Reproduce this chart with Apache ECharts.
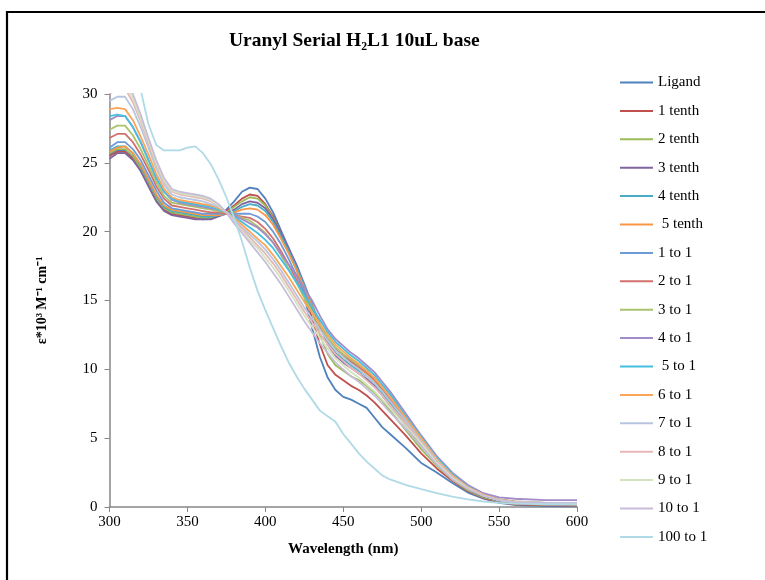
<!DOCTYPE html>
<html>
<head>
<meta charset="utf-8">
<script src="https://cdn.jsdelivr.net/npm/echarts@6/dist/echarts.min.js"></script>
<style>html,body{margin:0;padding:0;background:#fff;}#c{width:765px;height:580px;}</style>
</head>
<body>
<div id="c"></div>
<script>
const wavelengths = [300,305,310,315,320,325,330,335,340,345,350,355,360,365,370,375,380,385,390,395,400,405,410,415,420,425,430,435,440,445,450,455,460,465,470,475,480,490,500,510,520,530,540,550,560,580,600];

const ligand   = [25.6,25.9,25.9,25.4,24.6,23.5,22.4,21.7,21.3,21.2,21.1,21.0,20.9,21.0,21.2,21.6,22.2,22.9,23.2,23.1,22.4,21.4,20.1,18.8,17.3,15.3,13.0,10.9,9.4,8.5,8.0,7.8,7.5,7.2,6.5,5.8,5.3,4.3,3.2,2.5,1.75,1.05,0.6,0.3,0.15,0.07,0.05];
const tenth1   = [25.5,25.8,25.8,25.3,24.5,23.4,22.3,21.6,21.3,21.2,21.1,21.0,21.0,21.0,21.2,21.5,21.9,22.4,22.7,22.6,22.0,21.1,19.9,18.7,17.3,15.6,13.7,11.8,10.3,9.6,9.2,8.8,8.5,8.1,7.6,7.0,6.4,5.2,3.9,2.8,1.9,1.15,0.65,0.35,0.2,0.12,0.1];
const tenth2   = [25.7,26.0,26.0,25.5,24.6,23.5,22.4,21.7,21.4,21.3,21.2,21.1,21.0,21.0,21.2,21.4,21.8,22.2,22.5,22.4,21.9,21.0,19.9,18.7,17.4,15.9,14.2,12.5,11.1,10.3,9.9,9.5,9.2,8.8,8.3,7.7,7.0,5.6,4.2,3.0,2.0,1.2,0.7,0.4,0.25,0.15,0.12];
const tenth3   = [25.3,25.7,25.7,25.2,24.4,23.3,22.2,21.5,21.2,21.1,21.0,20.9,20.9,20.9,21.1,21.3,21.6,22.0,22.2,22.1,21.7,20.9,19.9,18.8,17.6,16.2,14.7,13.2,11.8,11.0,10.5,10.1,9.7,9.3,8.8,8.1,7.4,5.9,4.5,3.2,2.1,1.3,0.75,0.45,0.3,0.2,0.15];
const tenth4   = [25.9,26.2,26.2,25.7,24.8,23.7,22.6,21.8,21.5,21.4,21.3,21.2,21.1,21.1,21.2,21.3,21.5,21.8,22.0,21.9,21.5,20.7,19.7,18.6,17.4,16.1,14.7,13.3,12.0,11.2,10.7,10.3,9.9,9.5,9.0,8.3,7.6,6.1,4.6,3.3,2.2,1.35,0.8,0.45,0.3,0.2,0.15];
const tenth5   = [25.8,26.1,26.2,25.7,24.9,23.8,22.7,21.9,21.6,21.5,21.4,21.3,21.2,21.2,21.2,21.3,21.4,21.6,21.7,21.6,21.2,20.5,19.5,18.4,17.2,15.9,14.6,13.3,12.1,11.4,10.9,10.5,10.1,9.7,9.2,8.5,7.8,6.3,4.8,3.4,2.3,1.4,0.8,0.5,0.3,0.2,0.15];
const ratio1   = [26.1,26.5,26.5,26.0,25.2,24.1,23.0,22.1,21.7,21.6,21.5,21.4,21.3,21.3,21.3,21.3,21.3,21.3,21.3,21.1,20.7,20.0,19.1,18.0,16.8,15.6,14.4,13.2,12.2,11.5,11.0,10.6,10.2,9.8,9.3,8.6,7.9,6.4,4.9,3.5,2.3,1.4,0.85,0.5,0.3,0.2,0.18];
const ratio2   = [26.8,27.1,27.1,26.5,25.6,24.5,23.3,22.4,21.9,21.8,21.7,21.6,21.5,21.4,21.4,21.3,21.2,21.1,21.0,20.7,20.2,19.5,18.6,17.6,16.5,15.3,14.2,13.1,12.2,11.5,11.0,10.6,10.2,9.8,9.3,8.6,7.9,6.4,4.9,3.5,2.3,1.4,0.85,0.5,0.3,0.2,0.18];
const ratio3   = [27.4,27.7,27.7,27.0,26.0,24.8,23.6,22.6,22.1,22.0,21.9,21.8,21.7,21.6,21.5,21.4,21.2,21.0,20.8,20.4,19.9,19.2,18.3,17.3,16.3,15.2,14.2,13.2,12.3,11.6,11.1,10.7,10.3,9.9,9.4,8.7,8.0,6.5,5.0,3.6,2.4,1.45,0.9,0.55,0.35,0.25,0.2];
const ratio4   = [28.1,28.4,28.4,27.6,26.5,25.2,23.9,22.9,22.3,22.1,22.0,21.9,21.8,21.7,21.6,21.4,21.2,20.9,20.6,20.3,19.8,19.2,18.4,17.6,16.8,15.9,15.0,13.9,12.9,12.2,11.7,11.2,10.8,10.3,9.8,9.1,8.4,6.8,5.2,3.7,2.5,1.6,1.0,0.7,0.6,0.5,0.5];
const ratio5   = [28.4,28.5,28.4,27.6,26.5,25.2,23.9,22.9,22.4,22.2,22.1,22.0,21.9,21.8,21.6,21.4,21.1,20.7,20.3,19.9,19.4,18.8,18.0,17.2,16.3,15.4,14.5,13.6,12.7,12.0,11.5,11.0,10.6,10.1,9.6,8.9,8.2,6.6,5.1,3.6,2.4,1.5,0.9,0.55,0.4,0.3,0.25];
const ratio6   = [28.9,29.0,28.9,28.1,26.9,25.6,24.2,23.1,22.5,22.3,22.2,22.1,22.0,21.9,21.7,21.4,21.0,20.5,20.0,19.5,19.0,18.3,17.5,16.7,15.8,14.9,14.1,13.3,12.5,11.8,11.3,10.8,10.4,9.9,9.4,8.7,8.0,6.5,5.0,3.5,2.3,1.45,0.9,0.55,0.4,0.3,0.25];
const ratio7   = [29.5,29.8,29.8,28.9,27.6,26.1,24.6,23.4,22.7,22.5,22.4,22.3,22.2,22.0,21.8,21.4,20.9,20.3,19.8,19.3,18.7,18.0,17.2,16.3,15.4,14.5,13.7,12.9,12.1,11.4,10.9,10.4,10.0,9.5,9.0,8.4,7.7,6.3,4.8,3.4,2.2,1.4,0.85,0.5,0.35,0.3,0.25];
const ratio8   = [30.0,30.4,30.4,29.4,28.0,26.4,24.8,23.6,22.9,22.7,22.6,22.5,22.4,22.2,21.9,21.4,20.8,20.2,19.6,19.0,18.4,17.7,16.9,16.0,15.1,14.2,13.4,12.6,11.8,11.1,10.6,10.1,9.7,9.2,8.7,8.1,7.4,6.1,4.7,3.3,2.2,1.4,0.85,0.5,0.35,0.3,0.25];
const ratio9   = [30.3,30.8,30.7,29.7,28.2,26.6,25.0,23.7,23.0,22.8,22.7,22.6,22.5,22.3,21.9,21.4,20.7,20.0,19.4,18.8,18.1,17.4,16.6,15.7,14.8,13.9,13.1,12.3,11.5,10.8,10.3,9.8,9.4,8.9,8.4,7.8,7.2,5.9,4.6,3.2,2.1,1.35,0.8,0.5,0.35,0.3,0.25];
const ratio10  = [30.6,31.0,31.0,30.0,28.5,26.8,25.2,23.9,23.1,22.9,22.8,22.7,22.6,22.4,22.0,21.4,20.6,19.9,19.2,18.5,17.8,17.0,16.2,15.3,14.4,13.5,12.7,11.9,11.2,10.5,10.0,9.5,9.1,8.6,8.1,7.5,6.9,5.7,4.4,3.1,2.0,1.3,0.8,0.5,0.35,0.3,0.3];
const ratio100 = [38.0,36.0,34.0,32.2,30.3,27.8,26.3,25.9,25.9,25.9,26.1,26.2,25.7,24.9,23.8,22.5,21.0,19.3,17.4,15.7,14.3,13.0,11.7,10.5,9.5,8.6,7.8,7.0,6.6,6.2,5.3,4.6,3.9,3.3,2.8,2.3,2.0,1.6,1.3,1.0,0.75,0.55,0.4,0.3,0.25,0.2,0.2];

const seriesNames = ['Ligand','1 tenth','2 tenth','3 tenth','4 tenth',' 5 tenth','1 to 1','2 to 1','3 to 1','4 to 1',' 5 to 1','6 to 1','7 to 1','8 to 1','9 to 1','10 to 1','100 to 1'];
const seriesValues = [ligand,tenth1,tenth2,tenth3,tenth4,tenth5,ratio1,ratio2,ratio3,ratio4,ratio5,ratio6,ratio7,ratio8,ratio9,ratio10,ratio100];
const seriesColors = ['#4F81BD','#C0504D','#9BBB59','#7F64A1','#4BACC6','#F79646','#6D9BD6','#D2706E','#A9C36D','#A28BC9','#45BFE0','#FBA55A','#B7C6DE','#E5B8B7','#D4E2BF','#C7BDDA','#B0DAE6'];
const xTicks = [300,350,400,450,500,550,600];
const yTicks = [0,5,10,15,20,25,30];

const FONT = '"Liberation Serif","Times New Roman",serif';
const chart = echarts.init(document.getElementById('c'), null, {renderer:'canvas'});
chart.setOption({
  backgroundColor: '#fff',
  animation: false,
  title: {
    text: 'Uranyl Serial H₂L1 10uL base',
    left: 224, top: 26,
    textStyle: {fontFamily: FONT, fontWeight: 'bold', fontSize: 19.5, color: '#000'}
  },
  legend: {
    orient: 'vertical', left: 615, top: 70, padding: 5,
    icon: 'path://M0,0 L33,0 L33,2 L0,2 Z',
    itemWidth: 33, itemHeight: 14, itemGap: 13.4,
    data: seriesNames,
    textStyle: {fontFamily: FONT, fontSize: 15, color: '#000'}
  },
  grid: {left: 109.5, right: 188, top: 94, bottom: 73, containLabel: false},
  xAxis: {
    type: 'value', min: xTicks[0], max: xTicks[xTicks.length-1], interval: 50,
    name: 'Wavelength (nm)', nameLocation: 'middle', nameGap: 35,
    nameTextStyle: {fontFamily: FONT, fontWeight: 'bold', fontSize: 15, color: '#000'},
    axisLine: {lineStyle: {color: '#868686', width: 1.5}},
    axisTick: {show: true, inside: false, length: 5, lineStyle: {color: '#868686'}},
    axisLabel: {fontFamily: FONT, fontSize: 15, color: '#000', margin: 8},
    splitLine: {show: false}
  },
  yAxis: {
    type: 'value', min: yTicks[0], max: yTicks[yTicks.length-1], interval: 5,
    name: 'ε*10³ M⁻¹ cm⁻¹', nameLocation: 'middle', nameGap: 60, nameRotate: 90,
    nameTextStyle: {fontFamily: FONT, fontWeight: 'bold', fontSize: 14, color: '#000'},
    axisLine: {show: true, lineStyle: {color: '#868686', width: 1.5}},
    axisTick: {show: true, inside: false, length: 5, lineStyle: {color: '#868686'}},
    axisLabel: {fontFamily: FONT, fontSize: 15, color: '#000', margin: 12},
    splitLine: {show: false}
  },
  graphic: [
    {type: 'line', shape: {x1: 7, y1: 11, x2: 7, y2: 580}, style: {stroke: '#000', lineWidth: 2.2}},
    {type: 'line', shape: {x1: 6, y1: 12, x2: 765, y2: 12}, style: {stroke: '#000', lineWidth: 2.2}}
  ],
  series: seriesNames.map((n, i) => ({
    name: n, type: 'line', symbol: 'none', showSymbol: false, clip: true,
    color: seriesColors[i],
    itemStyle: {color: seriesColors[i]},
    lineStyle: {width: 1.8, color: seriesColors[i]},
    data: wavelengths.map((w, j) => [w, seriesValues[i][j]])
  }))
});
</script>
</body>
</html>
